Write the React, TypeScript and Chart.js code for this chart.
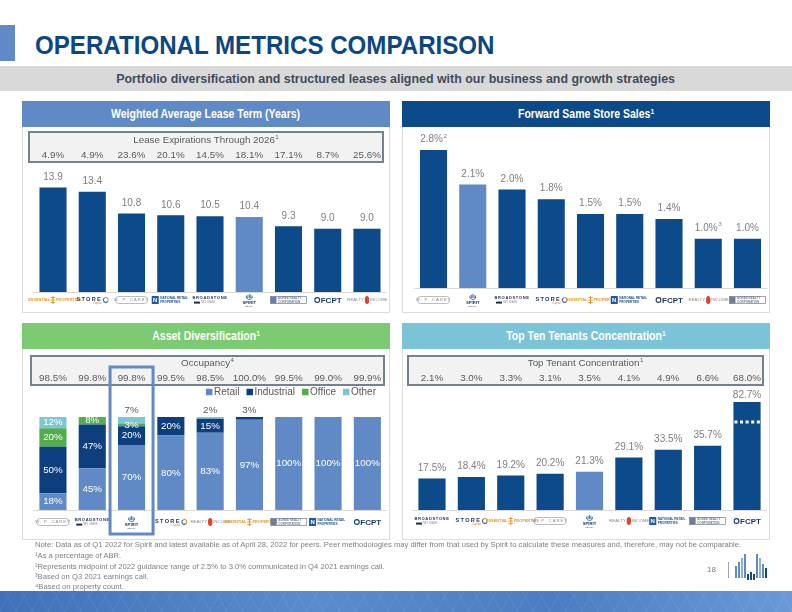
import React, { useEffect, useRef } from "react";
import { Chart, registerables } from "chart.js";
Chart.register(...registerables);

// ---------------- data ----------------
const waltCompanies = ["Essential Properties", "STORE Capital", "W. P. Carey", "National Retail Properties", "Broadstone Net Lease", "Spirit", "Agree Realty", "FCPT", "Realty Income"];
const waltYears = [13.9, 13.4, 10.8, 10.6, 10.5, 10.4, 9.3, 9.0, 9.0];
const leaseExpirations = [4.9, 4.9, 23.6, 20.1, 14.5, 18.1, 17.1, 8.7, 25.6];

const sssCompanies = ["W. P. Carey", "Spirit", "Broadstone Net Lease", "STORE Capital", "Essential Properties", "National Retail Properties", "FCPT", "Realty Income", "Agree Realty"];
const sssGrowth = [2.8, 2.1, 2.0, 1.8, 1.5, 1.5, 1.4, 1.0, 1.0];
const sssNotes = ["2", "", "", "", "", "", "", "3", ""];

const assetCompanies = ["W. P. Carey", "Broadstone Net Lease", "Spirit", "STORE Capital", "Realty Income", "Essential Properties", "Agree Realty", "National Retail Properties", "FCPT"];
const retailShare = [18, 45, 70, 80, 83, 97, 100, 100, 100];
const industrialShare = [50, 47, 20, 20, 15, 3, 0, 0, 0];
const officeShare = [20, 8, 3, 0, 0, 0, 0, 0, 0];
const otherShare = [12, 0, 7, 0, 2, 0, 0, 0, 0];
const occupancy = [98.5, 99.8, 99.8, 99.5, 98.5, 100.0, 99.5, 99.0, 99.9];

const tenantCompanies = ["Broadstone Net Lease", "STORE Capital", "Essential Properties", "W. P. Carey", "Spirit", "Realty Income", "National Retail Properties", "Agree Realty", "FCPT"];
const topTenShare = [17.5, 18.4, 19.2, 20.2, 21.3, 29.1, 33.5, 35.7, 82.7];
const topTenantShare = [2.1, 3.0, 3.3, 3.1, 3.5, 4.1, 4.9, 6.6, 68.0];

// ---------------- style ----------------
const FONT = "'Liberation Sans', Arial, sans-serif";
const DARK = "#0d4a8a";
const LIGHT = "#5f8ac6";
const TITLE = "#0c4784";
const GREY = "#7f7f7f";
const DGREY = "#595959";

const F = (s: number, w = "normal") => `${w} ${s}px ${FONT}`;

function drawSup(ctx: any, main: string, sup: string, x: number, y: number, size: number, color: string) {
  ctx.save();
  ctx.fillStyle = color;
  ctx.textBaseline = "middle";
  ctx.textAlign = "left";
  ctx.font = F(size);
  const w1 = ctx.measureText(main).width;
  ctx.font = F(size * 0.62);
  const w2 = sup ? ctx.measureText(sup).width + 0.5 : 0;
  const start = x - (w1 + w2) / 2;
  ctx.font = F(size);
  ctx.fillText(main, start, y);
  if (sup) {
    ctx.font = F(size * 0.62);
    ctx.fillText(sup, start + w1 + 0.5, y - size * 0.35);
  }
  ctx.restore();
}

function drawLogo(ctx: any, name: string, cx: number, cy: number) {
  ctx.save();
  ctx.textBaseline = "middle";
  ctx.textAlign = "center";
  switch (name) {
    case "Essential Properties": {
      ctx.fillStyle = "#e39b2f";
      ctx.font = F(3.9, "bold");
      ctx.textAlign = "right";
      ctx.fillText("ESSENTIAL", cx - 3, cy);
      ctx.textAlign = "left";
      ctx.fillText("PROPERTIES", cx + 3, cy);
      ctx.fillRect(cx - 0.6, cy - 4, 1.2, 8);
      for (const d of [-2.4, 0, 2.4]) ctx.fillRect(cx - 2.4, cy + d - 0.4, 4.8, 0.8);
      break;
    }
    case "STORE Capital": {
      ctx.fillStyle = "#22396b";
      ctx.font = F(5.6, "bold");
      ctx.letterSpacing = "1.3px";
      ctx.fillText("STORE", cx - 3, cy - 1);
      ctx.letterSpacing = "0px";
      ctx.font = F(2.8);
      ctx.fillStyle = "#d58b2a";
      ctx.fillText("Capital", cx + 5, cy + 3.6);
      ctx.lineWidth = 1.2;
      ctx.strokeStyle = "#3f6fb5";
      ctx.beginPath();
      ctx.arc(cx + 13.5, cy, 2.4, 0.6, 4.2);
      ctx.stroke();
      ctx.strokeStyle = "#e39b2f";
      ctx.beginPath();
      ctx.arc(cx + 13.5, cy, 2.4, 4.2, 6.8);
      ctx.stroke();
      break;
    }
    case "W. P. Carey": {
      ctx.strokeStyle = "#a0a0a0";
      ctx.lineWidth = 0.7;
      ctx.beginPath();
      ctx.roundRect(cx - 16, cy - 3.5, 32, 7, 3);
      ctx.stroke();
      ctx.fillStyle = "#8c8c8c";
      ctx.font = F(4.3);
      ctx.letterSpacing = "0.9px";
      ctx.fillText("W. P. CAREY", cx, cy);
      ctx.letterSpacing = "0px";
      break;
    }
    case "National Retail Properties": {
      ctx.fillStyle = "#1d5aa8";
      ctx.fillRect(cx - 19, cy - 4, 7, 8);
      ctx.fillStyle = "#fff";
      ctx.font = F(6, "bold");
      ctx.fillText("N", cx - 15.5, cy + 0.3);
      ctx.fillStyle = "#1d4f91";
      ctx.font = F(3.1, "bold");
      ctx.textAlign = "left";
      ctx.fillText("NATIONAL RETAIL", cx - 10.5, cy - 1.8);
      ctx.fillText("PROPERTIES", cx - 10.5, cy + 1.8);
      break;
    }
    case "Broadstone Net Lease": {
      ctx.fillStyle = "#1b2f55";
      ctx.font = F(4.1, "bold");
      ctx.letterSpacing = "0.6px";
      ctx.fillText("BROADSTONE", cx, cy - 2);
      ctx.letterSpacing = "0px";
      ctx.fillRect(cx - 16, cy + 1.6, 6, 2);
      ctx.fillStyle = "#8a8a8a";
      ctx.font = F(2.6);
      ctx.textAlign = "left";
      ctx.fillText("NET LEASE", cx - 9, cy + 2.6);
      break;
    }
    case "Spirit": {
      ctx.strokeStyle = "#3d6fb0";
      ctx.lineWidth = 0.9;
      for (let k = -2; k <= 2; k++) {
        ctx.beginPath();
        ctx.moveTo(cx + k * 1.4, cy - 6 + Math.abs(k) * 0.8);
        ctx.lineTo(cx + k * 1.4, cy - 2);
        ctx.stroke();
      }
      ctx.beginPath();
      ctx.arc(cx, cy - 3.5, 3, 0.2, Math.PI - 0.2);
      ctx.stroke();
      ctx.fillStyle = "#1b3a6b";
      ctx.font = F(4.2, "bold");
      ctx.fillText("SPIRIT", cx, cy + 3.2);
      ctx.font = F(2.2);
      ctx.fillText("REALTY", cx, cy + 6.5);
      break;
    }
    case "Agree Realty": {
      ctx.strokeStyle = "#6f7f99";
      ctx.lineWidth = 0.7;
      ctx.strokeRect(cx - 18, cy - 3.5, 36, 7);
      ctx.fillStyle = "#6f7f99";
      ctx.fillRect(cx - 18, cy - 3.5, 6, 7);
      ctx.font = F(3, "bold");
      ctx.textAlign = "left";
      ctx.fillText("AGREE REALTY", cx - 10.5, cy - 1.5);
      ctx.fillText("CORPORATION", cx - 10.5, cy + 1.8);
      break;
    }
    case "FCPT": {
      ctx.strokeStyle = "#1b3a6b";
      ctx.lineWidth = 1.1;
      ctx.beginPath();
      ctx.arc(cx - 10.5, cy, 2.4, 0, Math.PI * 2);
      ctx.stroke();
      ctx.fillStyle = "#1b3a6b";
      ctx.font = F(8, "bold");
      ctx.textAlign = "left";
      ctx.fillText("FCPT", cx - 7, cy + 0.3);
      break;
    }
    case "Realty Income": {
      ctx.fillStyle = "#8a8a8a";
      ctx.font = F(4.4);
      ctx.textAlign = "right";
      ctx.fillText("REALTY", cx - 3, cy);
      ctx.textAlign = "left";
      ctx.fillText("INCOME", cx + 3, cy);
      ctx.fillStyle = "#e0432b";
      ctx.beginPath();
      ctx.ellipse(cx, cy, 2.2, 4, 0, 0, Math.PI * 2);
      ctx.fill();
      break;
    }
  }
  ctx.restore();
}

// ---------------- plugins ----------------
function baseAndLogos(offset: number) {
  return {
    id: "baseAndLogos",
    afterDraw(chart: any) {
      const ctx = chart.ctx;
      const { left, right, bottom } = chart.chartArea;
      ctx.save();
      ctx.strokeStyle = "#d9d9d9";
      ctx.lineWidth = 1;
      ctx.beginPath();
      ctx.moveTo(left, bottom + 0.5);
      ctx.lineTo(right, bottom + 0.5);
      ctx.stroke();
      ctx.restore();
      const x = chart.scales.x;
      (chart.data.labels as string[]).forEach((name, i) => drawLogo(ctx, name, x.getPixelForValue(i), bottom + offset));
    },
  };
}

function infoBox(o: { x1: number; y1: number; x2: number; y2: number; title: string; sup: string; values: number[]; titleY: number; valueY: number }) {
  return {
    id: "infoBox",
    afterDraw(chart: any) {
      const ctx = chart.ctx;
      ctx.save();
      ctx.fillStyle = "#f2f2f2";
      ctx.fillRect(o.x1, o.y1, o.x2 - o.x1, o.y2 - o.y1);
      ctx.strokeStyle = "#76818f";
      ctx.lineWidth = 2;
      ctx.strokeRect(o.x1, o.y1, o.x2 - o.x1, o.y2 - o.y1);
      ctx.restore();
      drawSup(ctx, o.title, o.sup, (o.x1 + o.x2) / 2, o.titleY, 9.8, DGREY);
      const x = chart.scales.x;
      o.values.forEach((v, i) => drawSup(ctx, v.toFixed(1) + "%", "", x.getPixelForValue(i), o.valueY, 9.8, DGREY));
    },
  };
}

function valueLabels(fmt: (v: number) => string, notes?: string[]) {
  return {
    id: "valueLabels",
    afterDatasetsDraw(chart: any) {
      const ctx = chart.ctx;
      const meta = chart.getDatasetMeta(0);
      const top = chart.chartArea.top;
      chart.data.datasets[0].data.forEach((v: number, i: number) => {
        const el = meta.data[i];
        const y = el.y < top ? top - 6.5 : el.y - 10.5;
        drawSup(ctx, fmt(v), notes ? notes[i] : "", el.x, y, 10, GREY);
      });
    },
  };
}

const breakMark = {
  id: "breakMark",
  afterDatasetsDraw(chart: any) {
    const ctx = chart.ctx;
    const meta = chart.getDatasetMeta(0);
    const max = chart.scales.y.max;
    chart.data.datasets[0].data.forEach((v: number, i: number) => {
      if (v <= max) return;
      const el = meta.data[i];
      const y = chart.chartArea.top + 20;
      ctx.save();
      ctx.strokeStyle = "#ffffff";
      ctx.lineWidth = 3;
      ctx.setLineDash([3, 2.6]);
      ctx.beginPath();
      ctx.moveTo(el.x - el.width / 2 + 1, y);
      ctx.lineTo(el.x + el.width / 2, y);
      ctx.stroke();
      ctx.restore();
    });
  },
};

const stackLabels = {
  id: "stackLabels",
  afterDatasetsDraw(chart: any) {
    const ctx = chart.ctx;
    const ds = chart.data.datasets;
    const n = chart.data.labels.length;
    ctx.save();
    ctx.textAlign = "center";
    ctx.textBaseline = "middle";
    ctx.font = F(9.8);
    for (let i = 0; i < n; i++) {
      let topK = -1;
      ds.forEach((d: any, k: number) => {
        if (d.data[i] > 0) topK = k;
      });
      ds.forEach((d: any, k: number) => {
        const v = d.data[i];
        if (!(v > 0)) return;
        const el = chart.getDatasetMeta(k).data[i];
        if (k === topK && v < 8) {
          ctx.fillStyle = DGREY;
          ctx.fillText(v + "%", el.x, el.y - 7);
        } else {
          ctx.fillStyle = "#ffffff";
          ctx.fillText(v + "%", el.x, (el.y + el.base) / 2);
        }
      });
    }
    ctx.restore();
  },
};

const assetLegend = {
  id: "assetLegend",
  afterDraw(chart: any) {
    const ctx = chart.ctx;
    ctx.save();
    ctx.font = F(10);
    ctx.textBaseline = "middle";
    ctx.textAlign = "left";
    const items = chart.data.datasets.map((d: any) => ({ label: d.label, color: d.backgroundColor }));
    const sq = 6.5, gapIn = 1.5, gapOut = 7;
    const widths = items.map((it: any) => sq + gapIn + ctx.measureText(it.label).width);
    const total = widths.reduce((a: number, b: number) => a + b, 0) + gapOut * (items.length - 1);
    let x = 354 - total;
    const y = 42;
    items.forEach((it: any, k: number) => {
      ctx.fillStyle = it.color;
      ctx.fillRect(x, y - sq / 2, sq, sq);
      ctx.fillStyle = DGREY;
      ctx.fillText(it.label, x + sq + gapIn, y + 0.5);
      x += widths[k] + gapOut;
    });
    ctx.restore();
  },
};

const spiritHighlight = {
  id: "spiritHighlight",
  afterDraw(chart: any) {
    const i = (chart.data.labels as string[]).indexOf("Spirit");
    if (i < 0) return;
    const cx = chart.scales.x.getPixelForValue(i);
    const ctx = chart.ctx;
    ctx.save();
    ctx.strokeStyle = LIGHT;
    ctx.lineWidth = 3;
    ctx.strokeRect(cx - 21.5, 17, 43, 167);
    ctx.restore();
  },
};

const barBase = { categoryPercentage: 1, barPercentage: 0.69, clip: 0 };
const hidden = { legend: { display: false }, tooltip: { enabled: false } };

function colorsFor(names: string[]) {
  return names.map((c) => (c === "Spirit" ? LIGHT : DARK));
}

function waltConfig(): any {
  return {
    type: "bar",
    data: { labels: waltCompanies, datasets: [{ data: waltYears, backgroundColor: colorsFor(waltCompanies), ...barBase }] },
    options: {
      animation: false,
      responsive: false,
      layout: { padding: { left: 11.4, right: 3.4, top: 41.8, bottom: 20 } },
      plugins: hidden,
      scales: { x: { display: false }, y: { display: false, min: 1.5, max: 16 } },
    },
    plugins: [
      infoBox({ x1: 7, y1: 4, x2: 361, y2: 34, title: "Lease Expirations Through 2026", sup: "1", values: leaseExpirations, titleY: 12.5, valueY: 27 }),
      valueLabels((v) => v.toFixed(1)),
      baseAndLogos(8),
    ],
  };
}

function sssConfig(): any {
  return {
    type: "bar",
    data: { labels: sssCompanies, datasets: [{ data: sssGrowth, backgroundColor: colorsFor(sssCompanies), ...barBase }] },
    options: {
      animation: false,
      responsive: false,
      layout: { padding: { left: 11.9, right: 2.9, top: 2.2, bottom: 24 } },
      plugins: hidden,
      scales: { x: { display: false }, y: { display: false, min: 0, max: 3.2 } },
    },
    plugins: [valueLabels((v) => v.toFixed(1) + "%", sssNotes), baseAndLogos(12)],
  };
}

function assetConfig(): any {
  const mk = (label: string, data: number[], color: string) => ({ label, data, backgroundColor: color, ...barBase });
  return {
    type: "bar",
    data: {
      labels: assetCompanies,
      datasets: [
        mk("Retail", retailShare, LIGHT),
        mk("Industrial", industrialShare, "#0d3f7f"),
        mk("Office", officeShare, "#52ad4c"),
        mk("Other", otherShare, "#7ec6d6"),
      ],
    },
    options: {
      animation: false,
      responsive: false,
      layout: { padding: { left: 11.3, right: 3, top: 67, bottom: 30 } },
      plugins: hidden,
      scales: { x: { display: false, stacked: true }, y: { display: false, stacked: true, min: 0, max: 100 } },
    },
    plugins: [
      infoBox({ x1: 9, y1: 6, x2: 362, y2: 35, title: "Occupancy", sup: "4", values: occupancy, titleY: 13.5, valueY: 28 }),
      stackLabels,
      assetLegend,
      baseAndLogos(12),
      spiritHighlight,
    ],
  };
}

function tenantConfig(): any {
  return {
    type: "bar",
    data: { labels: tenantCompanies, datasets: [{ data: topTenShare, backgroundColor: colorsFor(tenantCompanies), ...barBase }] },
    options: {
      animation: false,
      responsive: false,
      layout: { padding: { left: 10.3, right: 3.3, top: 52, bottom: 30 } },
      plugins: hidden,
      scales: { x: { display: false }, y: { display: false, min: 0, max: 60 } },
    },
    plugins: [
      infoBox({ x1: 6, y1: 6, x2: 361, y2: 35, title: "Top Tenant Concentration", sup: "1", values: topTenantShare, titleY: 13.5, valueY: 28 }),
      breakMark,
      valueLabels((v) => v.toFixed(1) + "%"),
      baseAndLogos(11),
    ],
  };
}

// ---------------- components ----------------
function ChartBox({ left, top, width, height, make }: { left: number; top: number; width: number; height: number; make: () => any }) {
  const ref = useRef<HTMLCanvasElement>(null);
  useEffect(() => {
    const chart = new Chart(ref.current as HTMLCanvasElement, make());
    return () => chart.destroy();
  }, []);
  return (
    <div style={{ position: "absolute", left, top, width, height }}>
      <canvas ref={ref} width={width} height={height} style={{ display: "block", width, height }} />
    </div>
  );
}

function Panel({ x, y, w, h, color, title, sup }: { x: number; y: number; w: number; h: number; color: string; title: string; sup?: string }) {
  return (
    <>
      <div style={{ position: "absolute", left: x, top: y, width: w, height: h, border: "1px solid #dedede", boxSizing: "border-box" }} />
      <div
        style={{
          position: "absolute",
          left: x,
          top: y,
          width: w,
          height: 26,
          background: color,
          color: "#fff",
          fontWeight: "bold",
          fontSize: 12.5,
          display: "flex",
          alignItems: "center",
          justifyContent: "center",
          whiteSpace: "nowrap",
        }}
      >
        <span style={{ display: "inline-block", transform: "scaleX(0.84)" }}>
          {title}
          {sup ? <span style={{ fontSize: 8, position: "relative", top: -4 }}>{sup}</span> : null}
        </span>
      </div>
    </>
  );
}

const footnotes = [
  "Note: Data as of Q1 2022 for Spirit and latest available as of April 28, 2022 for peers. Peer methodologies may differ from that used by Spirit to calculate these measures and, therefore, may not be comparable.",
  "¹As a percentage of ABR.",
  "²Represents midpoint of 2022 guidance range of 2.5% to 3.0% communicated in Q4 2021 earnings call.",
  "³Based on Q3 2021 earnings call.",
  "⁴Based on property count.",
];
const footY = [545, 555.7, 566.5, 577, 587];

const logoBars = [
  [0, 12, LIGHT], [3, 16, LIGHT], [6, 20, "#8fb0dc"], [9, 24, LIGHT], [12, 6, DARK], [15, 8, DARK], [18, 6, DARK], [21, 24, LIGHT], [24, 20, "#8fb0dc"], [27, 14, LIGHT], [30, 10, DARK],
] as const;

export default function App() {
  return (
    <div style={{ position: "fixed", left: 0, top: 0, width: 792, height: 612, background: "#fff", overflow: "hidden", fontFamily: FONT }}>
      <div style={{ position: "absolute", left: 0, top: 25, width: 15, height: 36, background: LIGHT }} />
      <div
        style={{
          position: "absolute",
          left: 35,
          top: 31.5,
          fontSize: 26.5,
          lineHeight: "26.5px",
          fontWeight: "bold",
          color: TITLE,
          whiteSpace: "nowrap",
          transformOrigin: "left top",
          transform: "scaleX(0.91)",
        }}
      >
        OPERATIONAL METRICS COMPARISON
      </div>
      <div
        style={{
          position: "absolute",
          left: 0,
          top: 66,
          width: 792,
          height: 25,
          background: "#d9d9d9",
          display: "flex",
          alignItems: "center",
          justifyContent: "center",
          color: "#3f4b5b",
          fontWeight: "bold",
          fontSize: 13,
          whiteSpace: "nowrap",
        }}
      >
        <span style={{ display: "inline-block", transform: "scaleX(0.955)" }}>
          Portfolio diversification and structured leases aligned with our business and growth strategies
        </span>
      </div>

      <Panel x={22} y={101} w={368} h={212} color={LIGHT} title="Weighted Average Lease Term (Years)" />
      <Panel x={402} y={101} w={368} h={212} color={DARK} title="Forward Same Store Sales" sup="1" />
      <Panel x={22} y={323} w={368} h={217} color="#7cca72" title="Asset Diversification" sup="1" />
      <Panel x={402} y={323} w={368} h={217} color="#7bc3d7" title="Top Ten Tenants Concentration" sup="1" />

      <ChartBox left={22} top={128} width={368} height={184} make={waltConfig} />
      <ChartBox left={402} top={128} width={368} height={184} make={sssConfig} />
      <ChartBox left={22} top={350} width={368} height={190} make={assetConfig} />
      <ChartBox left={402} top={350} width={368} height={190} make={tenantConfig} />

      <div style={{ position: "absolute", left: 0, top: 0, width: 792, height: 612, opacity: 0.999, pointerEvents: "none" }}>
        {footnotes.map((t, i) => (
          <div key={i} style={{ position: "absolute", left: 35, top: footY[i] - 5, lineHeight: "10px", fontSize: 7.65, color: "#808080", whiteSpace: "nowrap" }}>
            {t}
          </div>
        ))}
        <div style={{ position: "absolute", left: 707, top: 565, fontSize: 8, lineHeight: "10px", color: "#808080" }}>18</div>
      </div>
      <div style={{ position: "absolute", left: 728, top: 562, width: 1, height: 16, background: "#a6a6a6" }} />
      {logoBars.map(([dx, h, c], i) => (
        <div key={i} style={{ position: "absolute", left: 735 + dx, top: 580 - h - (i >= 4 && i <= 6 ? 0 : 2), width: 2, height: h, background: c as string }} />
      ))}
      <div
        style={{
          position: "absolute",
          left: 0,
          top: 591,
          width: 792,
          height: 21,
          background:
            "repeating-linear-gradient(60deg, rgba(255,255,255,0.06) 0 1px, transparent 1px 14px), repeating-linear-gradient(-60deg, rgba(255,255,255,0.06) 0 1px, transparent 1px 14px), linear-gradient(90deg, #3f72b8 0%, #5a8bcc 40%, #4b7dc2 70%, #6a99d6 100%)",
        }}
      />
    </div>
  );
}
